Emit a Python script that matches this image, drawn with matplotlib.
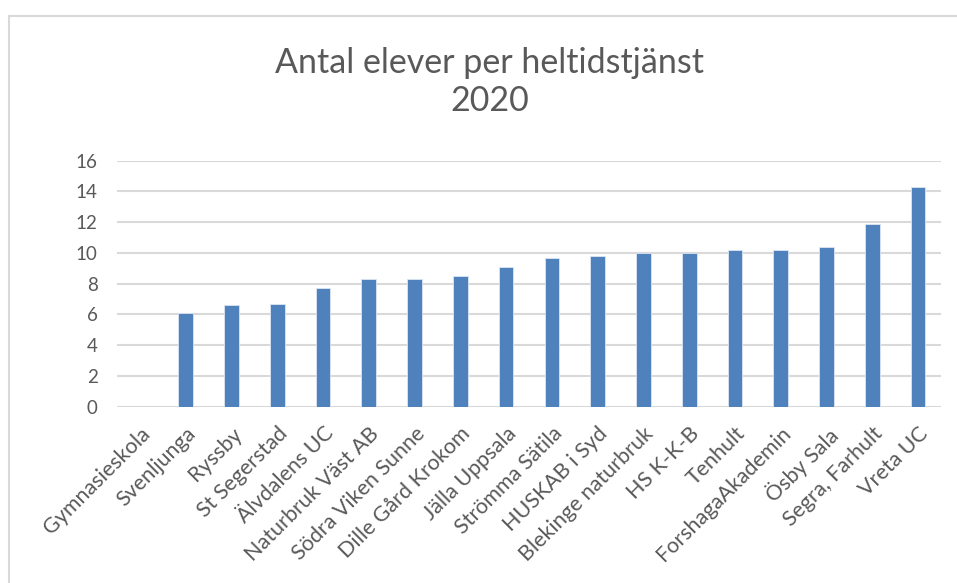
import matplotlib
matplotlib.use('Agg')
import matplotlib.pyplot as plt
from matplotlib.patches import Rectangle

# skolor och värden
skolor = ['Gymnasieskola', 'Svenljunga', 'Ryssby', 'St Segerstad', 'Älvdalens UC',
          'Naturbruk Väst AB', 'Södra Viken Sunne', 'Dille Gård Krokom', 'Jälla Uppsala',
          'Strömma Sätila', 'HUSKAB i Syd', 'Blekinge naturbruk', 'HS K-K-B', 'Tenhult',
          'ForshagaAkademin', 'Ösby Sala', 'Segra, Farhult', 'Vreta UC']
elever = [0, 6.1, 6.6, 6.7, 7.7, 8.3, 8.3, 8.5, 9.1,
          9.7, 9.8, 10.0, 10.0, 10.2, 10.2, 10.4, 11.9, 14.3]
y_ticks = [0, 2, 4, 6, 8, 10, 12, 14, 16]

plt.rcParams['font.family'] = ['Lato', 'DejaVu Sans']

fig = plt.figure(figsize=(9.57, 5.83), dpi=100)
W, H = 957, 583

# ram runt diagrammet
fig.patches.append(Rectangle((9 / W, -0.01), 1.0, 1 - 16 / H + 0.01,
                             transform=fig.transFigure, fill=False,
                             edgecolor='#D9D9D9', linewidth=1.5))

ax = fig.add_axes([117 / W, 1 - 406.7 / H, (941 - 117) / W, (406.7 - 160.7) / H])

x = range(len(skolor))
ax.bar(x, elever, width=0.32, color='#4F81BD', edgecolor='#DCE6F2', linewidth=0.6, zorder=3)

ax.set_xlim(-0.5, len(skolor) - 0.5)
ax.set_ylim(0, 16)
ax.set_yticks(y_ticks)
ax.yaxis.grid(True, color='#D9D9D9', linewidth=1.5, zorder=0)
for s in ax.spines.values():
    s.set_visible(False)
ax.tick_params(axis='both', length=0, labelcolor='#595959')
ax.tick_params(axis='y', pad=14, labelsize=13.5)
ax.set_xticks(list(x))
ax.set_xticklabels(skolor, rotation=45, ha='right', rotation_mode='anchor', fontsize=15.5)
ax.tick_params(axis='x', pad=12)

fig.text(490 / W, 1 - 82 / H, 'Antal elever per heltidstjänst\n2020', ha='center', va='center',
         fontsize=24.5, color='#595959', linespacing=1.2)

fig.savefig('out.png', dpi=100)
